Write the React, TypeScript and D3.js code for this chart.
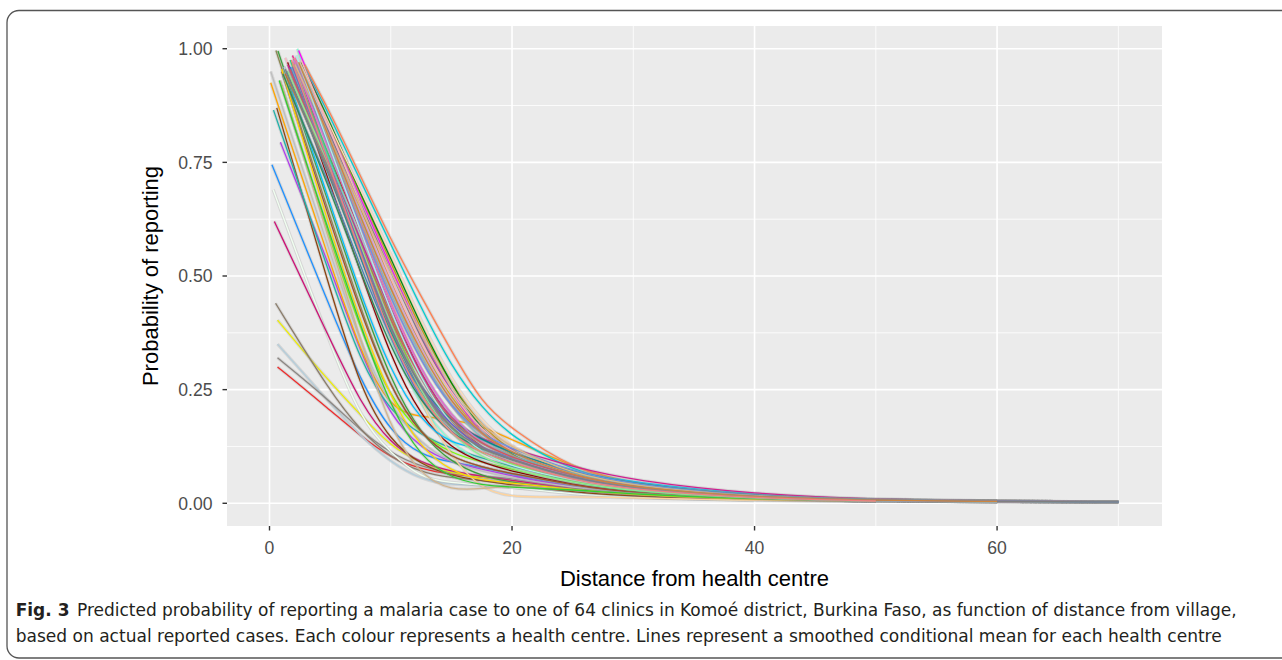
import React from "react";
import * as d3 from "d3";

const distanceGrid = [5, 7.5, 10, 12.5, 15, 17.5, 20, 25, 30, 40, 50, 60, 70];

const xTicks = [0, 20, 40, 60];
const xMinor = [10, 30, 50, 70];
const yTicks = [0, 0.25, 0.5, 0.75, 1];
const yMinor = [0.125, 0.375, 0.625, 0.875];

const clinicColours = [
  "#EE2C2C", "#B4CDDA", "#8B8682", "#EEEE00", "#8B7D6B", "#F0FFF0", "#CD1076", "#1E90FF", "#B23AEE",
  "#8B4513", "#20B2AA", "#FFA500", "#BEBEBE", "#7CFC00", "#8B864E", "#3CA03C", "#7FFFD4", "#FF00FF",
  "#FFB6C1", "#8B0000", "#CD0000", "#EE1289", "#00CED1", "#FF7F50", "#CD950C", "#008B00", "#8B668B",
  "#DAA520", "#FFA07A", "#FFDAB9", "#FFD39B", "#7AC5CD", "#00BFFF", "#0000EE", "#00EE76", "#ADFF2F",
  "#9ACD32", "#FF69B4", "#DDA0DD", "#D8BFD8", "#A0522D", "#4682B4", "#D2B48C", "#BC8F8F", "#40E0D0",
  "#D2691E", "#D02090", "#FA8072", "#FFAEB9", "#FFD700", "#4169E1", "#2E8B57", "#32CD32", "#008B8B",
  "#6495ED", "#DA70D6", "#CD5C5C", "#DEB887", "#AEEEEE", "#90EE90", "#6A5ACD", "#7F7F7F", "#CD853F",
  "#F08080",
];

const startDistance = [
  0.66, 0.66, 0.66, 0.66, 0.5, 0.3, 0.4, 0.2, 0.9,
  0.6, 0.33, 0.1, 0.1, 1.0, 0.53, 0.7, 2.3, 2.4,
  1.3, 1.5, 1.6, 1.9, 2.95, 2.9, 2.8, 2.6, 2.5,
  2.2, 2.0, 2.5, 1.8, 2.3, 1.2, 1.4, 1.7, 1.5,
  1.9, 2.1, 2.3, 1.2, 1.0, 1.1, 0.9, 1.6, 1.8,
  1.3, 1.5, 2.0, 2.6, 1.0, 1.7, 1.1, 0.8, 1.4,
  2.2, 2.0, 1.7, 2.1, 2.2, 1.5, 1.9, 1.3, 2.4,
  1.8,
];

const startProbability = [
  0.3, 0.35, 0.32, 0.403, 0.44, 0.69, 0.62, 0.745, 0.794,
  0.87, 0.865, 0.925, 0.95, 0.92, 0.996, 0.995, 1.0, 0.996,
  0.98, 0.97, 0.96, 0.985, 0.96, 0.965, 0.955, 0.97, 0.96,
  0.975, 0.98, 0.97, 0.97, 0.965, 0.96, 0.95, 0.975, 0.94,
  0.965, 0.98, 0.97, 0.96, 0.95, 0.94, 0.93, 0.955, 0.96,
  0.945, 0.965, 0.97, 0.975, 0.955, 0.96, 0.945, 0.93, 0.95,
  0.965, 0.975, 0.955, 0.965, 0.985, 0.95, 0.96, 0.955, 0.97,
  0.975,
];

// probability at distanceGrid, one row per clinic
const probabilityByDistance = [
  [0.205, 0.148, 0.1, 0.075, 0.063, 0.058, 0.05, 0.03, 0.018, 0.008, 0.005, 0.003, 0.002],
  [0.22, 0.148, 0.09, 0.052, 0.04, 0.04, 0.035, 0.022, 0.013, 0.006, 0.004],
  [0.225, 0.16, 0.11, 0.08, 0.066, 0.06, 0.055, 0.034, 0.02, 0.01, 0.006, 0.004, 0.003],
  [0.265, 0.195, 0.125, 0.088, 0.066, 0.057, 0.05, 0.03, 0.018, 0.008, 0.005],
  [0.245, 0.16, 0.1, 0.068, 0.056, 0.05, 0.045, 0.028, 0.017, 0.008, 0.005, 0.003],
  [0.35, 0.185, 0.11, 0.055, 0.045, 0.04, 0.035, 0.02, 0.012, 0.006],
  [0.36, 0.22, 0.13, 0.088, 0.07, 0.06, 0.05, 0.032, 0.02, 0.009, 0.005, 0.003],
  [0.43, 0.27, 0.155, 0.105, 0.09, 0.08, 0.062, 0.036, 0.02, 0.009, 0.005, 0.003, 0.002],
  [0.52, 0.33, 0.19, 0.12, 0.09, 0.075, 0.06, 0.035, 0.02, 0.009, 0.005],
  [0.47, 0.25, 0.135, 0.085, 0.06, 0.05, 0.04, 0.025, 0.015, 0.008, 0.005, 0.004, 0.003],
  [0.5, 0.31, 0.2, 0.15, 0.12, 0.1, 0.08, 0.05, 0.03, 0.012, 0.006, 0.004, 0.003],
  [0.53, 0.33, 0.205, 0.19, 0.185, 0.17, 0.14, 0.08, 0.04, 0.012, 0.006, 0.004],
  [0.55, 0.35, 0.21, 0.13, 0.09, 0.07, 0.055, 0.035, 0.02, 0.01, 0.006, 0.004, 0.003],
  [0.58, 0.38, 0.23, 0.15, 0.11, 0.09, 0.075, 0.045, 0.028, 0.012, 0.006, 0.004],
  [0.63, 0.43, 0.25, 0.15, 0.1, 0.08, 0.065, 0.04, 0.022, 0.01, 0.005, 0.004, 0.003],
  [0.65, 0.45, 0.27, 0.15, 0.09, 0.06, 0.045, 0.03, 0.02, 0.01, 0.006, 0.004, 0.003],
  [0.77, 0.55, 0.35, 0.21, 0.13, 0.09, 0.07, 0.04, 0.025, 0.015, 0.006, 0.004],
  [0.83, 0.67, 0.52, 0.37, 0.24, 0.15, 0.1, 0.05, 0.025, 0.009, 0.005, 0.003, 0.002],
  [0.74, 0.57, 0.41, 0.27, 0.17, 0.12, 0.09, 0.055, 0.032, 0.011, 0.005],
  [0.7, 0.51, 0.32, 0.19, 0.12, 0.09, 0.07, 0.04, 0.024, 0.009, 0.005, 0.003],
  [0.76, 0.6, 0.43, 0.28, 0.18, 0.12, 0.09, 0.05, 0.03, 0.011, 0.005, 0.003],
  [0.75, 0.57, 0.38, 0.24, 0.16, 0.12, 0.1, 0.06, 0.035, 0.013, 0.006, 0.004],
  [0.85, 0.71, 0.57, 0.43, 0.3, 0.21, 0.145, 0.07, 0.04, 0.015, 0.006, 0.004, 0.003],
  [0.86, 0.72, 0.58, 0.455, 0.335, 0.22, 0.163, 0.075, 0.04, 0.015, 0.007, 0.004, 0.003],
  [0.83, 0.68, 0.53, 0.38, 0.26, 0.17, 0.11, 0.055, 0.03, 0.012, 0.006, 0.004],
  [0.84, 0.68, 0.54, 0.39, 0.26, 0.16, 0.1, 0.05, 0.028, 0.01, 0.005],
  [0.81, 0.66, 0.51, 0.36, 0.24, 0.16, 0.11, 0.06, 0.035, 0.013, 0.006, 0.004, 0.003],
  [0.8, 0.65, 0.49, 0.34, 0.23, 0.15, 0.1, 0.055, 0.03, 0.011, 0.005, 0.003],
  [0.79, 0.63, 0.47, 0.32, 0.21, 0.14, 0.1, 0.055, 0.03, 0.011, 0.005],
  [0.83, 0.69, 0.55, 0.4, 0.27, 0.18, 0.12, 0.065, 0.038, 0.014, 0.007, 0.004, 0.003],
  [0.75, 0.56, 0.38, 0.22, 0.1, 0.03, 0.012, 0.015, 0.012, 0.006, 0.004],
  [0.79, 0.62, 0.46, 0.32, 0.21, 0.14, 0.1, 0.055, 0.03, 0.012, 0.006, 0.004],
  [0.66, 0.46, 0.29, 0.18, 0.13, 0.12, 0.1, 0.07, 0.045, 0.018, 0.008, 0.005, 0.003],
  [0.72, 0.55, 0.38, 0.24, 0.15, 0.11, 0.09, 0.05, 0.028, 0.011, 0.005],
  [0.76, 0.58, 0.4, 0.25, 0.16, 0.11, 0.085, 0.045, 0.025, 0.01, 0.005, 0.003],
  [0.73, 0.55, 0.37, 0.23, 0.15, 0.11, 0.085, 0.048, 0.027, 0.011, 0.005],
  [0.75, 0.57, 0.4, 0.25, 0.16, 0.12, 0.09, 0.05, 0.03, 0.012, 0.006, 0.004],
  [0.78, 0.61, 0.44, 0.29, 0.19, 0.13, 0.1, 0.055, 0.03, 0.011, 0.005, 0.003],
  [0.8, 0.64, 0.48, 0.34, 0.22, 0.15, 0.11, 0.06, 0.034, 0.013, 0.006],
  [0.75, 0.59, 0.42, 0.27, 0.17, 0.12, 0.09, 0.05, 0.03, 0.012, 0.006, 0.004, 0.003],
  [0.62, 0.42, 0.25, 0.15, 0.1, 0.08, 0.065, 0.04, 0.022, 0.01, 0.005],
  [0.7, 0.52, 0.36, 0.24, 0.17, 0.14, 0.11, 0.065, 0.04, 0.015, 0.007, 0.004],
  [0.57, 0.36, 0.16, 0.06, 0.028, 0.032, 0.04, 0.03, 0.02, 0.01, 0.005],
  [0.72, 0.55, 0.38, 0.25, 0.17, 0.13, 0.1, 0.06, 0.034, 0.013, 0.006, 0.004],
  [0.75, 0.58, 0.41, 0.27, 0.18, 0.13, 0.1, 0.065, 0.038, 0.014, 0.007, 0.004, 0.003],
  [0.73, 0.57, 0.41, 0.27, 0.17, 0.12, 0.095, 0.055, 0.032, 0.012, 0.006],
  [0.74, 0.58, 0.42, 0.28, 0.18, 0.14, 0.12, 0.08, 0.05, 0.02, 0.008, 0.005, 0.003],
  [0.78, 0.62, 0.45, 0.31, 0.21, 0.15, 0.11, 0.06, 0.034, 0.013, 0.006, 0.004],
  [0.82, 0.66, 0.49, 0.35, 0.24, 0.16, 0.11, 0.06, 0.034, 0.013, 0.006],
  [0.6, 0.4, 0.23, 0.12, 0.07, 0.05, 0.045, 0.03, 0.018, 0.008, 0.004],
  [0.73, 0.54, 0.36, 0.22, 0.15, 0.12, 0.1, 0.06, 0.035, 0.013, 0.006, 0.004],
  [0.69, 0.51, 0.34, 0.22, 0.15, 0.12, 0.095, 0.055, 0.032, 0.012, 0.006, 0.004, 0.003],
  [0.59, 0.39, 0.21, 0.1, 0.055, 0.04, 0.035, 0.03, 0.02, 0.009, 0.005],
  [0.72, 0.54, 0.37, 0.25, 0.18, 0.14, 0.11, 0.07, 0.042, 0.015, 0.007, 0.004],
  [0.78, 0.61, 0.45, 0.31, 0.21, 0.15, 0.12, 0.07, 0.04, 0.015, 0.007, 0.004, 0.003],
  [0.77, 0.6, 0.43, 0.29, 0.19, 0.13, 0.1, 0.055, 0.03, 0.011, 0.005],
  [0.73, 0.56, 0.4, 0.27, 0.18, 0.13, 0.1, 0.06, 0.034, 0.013, 0.006, 0.004],
  [0.8, 0.65, 0.51, 0.37, 0.25, 0.17, 0.12, 0.065, 0.038, 0.014, 0.006],
  [0.78, 0.6, 0.42, 0.27, 0.17, 0.11, 0.08, 0.05, 0.028, 0.011, 0.005, 0.003],
  [0.74, 0.57, 0.39, 0.24, 0.15, 0.1, 0.075, 0.045, 0.026, 0.01, 0.005],
  [0.74, 0.56, 0.38, 0.25, 0.17, 0.12, 0.095, 0.055, 0.032, 0.012, 0.006, 0.004],
  [0.72, 0.55, 0.38, 0.25, 0.16, 0.12, 0.095, 0.055, 0.032, 0.013, 0.007, 0.004, 0.003],
  [0.8, 0.63, 0.47, 0.33, 0.22, 0.15, 0.11, 0.06, 0.034, 0.013, 0.006, 0.004],
  [0.74, 0.55, 0.36, 0.23, 0.15, 0.11, 0.09, 0.05, 0.03, 0.011, 0.005],
];

const captionLine1 =
  "Predicted probability of reporting a malaria case to one of 64 clinics in Komoé district, Burkina Faso, as function of distance from village,";
const captionLine2 =
  "based on actual reported cases. Each colour represents a health centre. Lines represent a smoothed conditional mean for each health centre";

const W = 1282;
const H = 660;
const panel = { left: 227, right: 1162, top: 26, bottom: 526 };
const axisFont = "'Liberation Sans', Arial, Helvetica, sans-serif";
const captionFont = "'Liberation Sans Narrow', 'DejaVu Sans Condensed', 'Liberation Sans', sans-serif";

export default function App() {
  const x = d3.scaleLinear().domain([-3.505, 73.6]).range([panel.left, panel.right]);
  const y = d3.scaleLinear().domain([-0.05, 1.05]).range([panel.bottom, panel.top]);

  const line = d3
    .line<[number, number]>()
    .x((d) => x(d[0]))
    .y((d) => y(d[1]))
    .curve(d3.curveBasis);

  const series = probabilityByDistance.map((row, i) => {
    const pts: [number, number][] = [[startDistance[i], startProbability[i]]];
    row.forEach((p, j) => pts.push([distanceGrid[j], p]));
    return { colour: clinicColours[i], path: line(pts) || "" };
  });

  const midX = (panel.left + panel.right) / 2;
  const midY = (panel.top + panel.bottom) / 2;

  return (
    <div style={{ position: "absolute", left: 0, top: 0 }}>
      <svg width={W} height={H} style={{ display: "block", background: "#fff" }}>
        <rect x={7} y={10.5} width={1300} height={647.5} rx={12} fill="none" stroke="#555" strokeWidth={1.3} />

        <rect
          x={panel.left}
          y={panel.top}
          width={panel.right - panel.left}
          height={panel.bottom - panel.top}
          fill="#EBEBEB"
        />
        {xMinor.map((t) => (
          <line key={"xm" + t} x1={x(t)} x2={x(t)} y1={panel.top} y2={panel.bottom} stroke="#fff" strokeWidth={0.8} />
        ))}
        {yMinor.map((t) => (
          <line key={"ym" + t} x1={panel.left} x2={panel.right} y1={y(t)} y2={y(t)} stroke="#fff" strokeWidth={0.8} />
        ))}
        {xTicks.map((t) => (
          <line key={"xg" + t} x1={x(t)} x2={x(t)} y1={panel.top} y2={panel.bottom} stroke="#fff" strokeWidth={1.6} />
        ))}
        {yTicks.map((t) => (
          <line key={"yg" + t} x1={panel.left} x2={panel.right} y1={y(t)} y2={y(t)} stroke="#fff" strokeWidth={1.6} />
        ))}

        <g fill="none" strokeLinejoin="round" strokeLinecap="butt">
          {series.map((s, i) => (
            <g key={i}>
              <path d={s.path} stroke="#999999" strokeOpacity={0.25} strokeWidth={3.2} />
              <path d={s.path} stroke={s.colour} strokeWidth={1.3} />
            </g>
          ))}
        </g>

        {yTicks.map((t) => (
          <g key={"yt" + t}>
            <line x1={panel.left - 4.5} x2={panel.left} y1={y(t)} y2={y(t)} stroke="#333" strokeWidth={1.4} />
            <text
              x={212.5}
              y={y(t)}
              dy="0.36em"
              textAnchor="end"
              fontFamily={axisFont}
              fontSize={17.6}
              fill="#4D4D4D"
            >
              {t.toFixed(2)}
            </text>
          </g>
        ))}
        {xTicks.map((t) => (
          <g key={"xt" + t}>
            <line x1={x(t)} x2={x(t)} y1={panel.bottom} y2={panel.bottom + 4.5} stroke="#333" strokeWidth={1.4} />
            <text x={x(t)} y={554} textAnchor="middle" fontFamily={axisFont} fontSize={17.6} fill="#4D4D4D">
              {t}
            </text>
          </g>
        ))}

        <text x={midX} y={586} textAnchor="middle" fontFamily={axisFont} fontSize={22} fill="#000">
          Distance from health centre
        </text>
        <text
          transform={`translate(158,${midY}) rotate(-90)`}
          textAnchor="middle"
          fontFamily={axisFont}
          fontSize={22}
          fill="#000"
        >
          Probability of reporting
        </text>

        <text x={15.7} y={616} fontFamily={captionFont} fontSize={17.5} fill="#231F20" textLength={1221} lengthAdjust="spacingAndGlyphs">
          <tspan fontWeight="bold">Fig. 3</tspan>
          <tspan dx={7}>{captionLine1}</tspan>
        </text>
        <text x={15.7} y={642} fontFamily={captionFont} fontSize={17.5} fill="#231F20" textLength={1206} lengthAdjust="spacingAndGlyphs">
          {captionLine2}
        </text>
      </svg>
    </div>
  );
}
